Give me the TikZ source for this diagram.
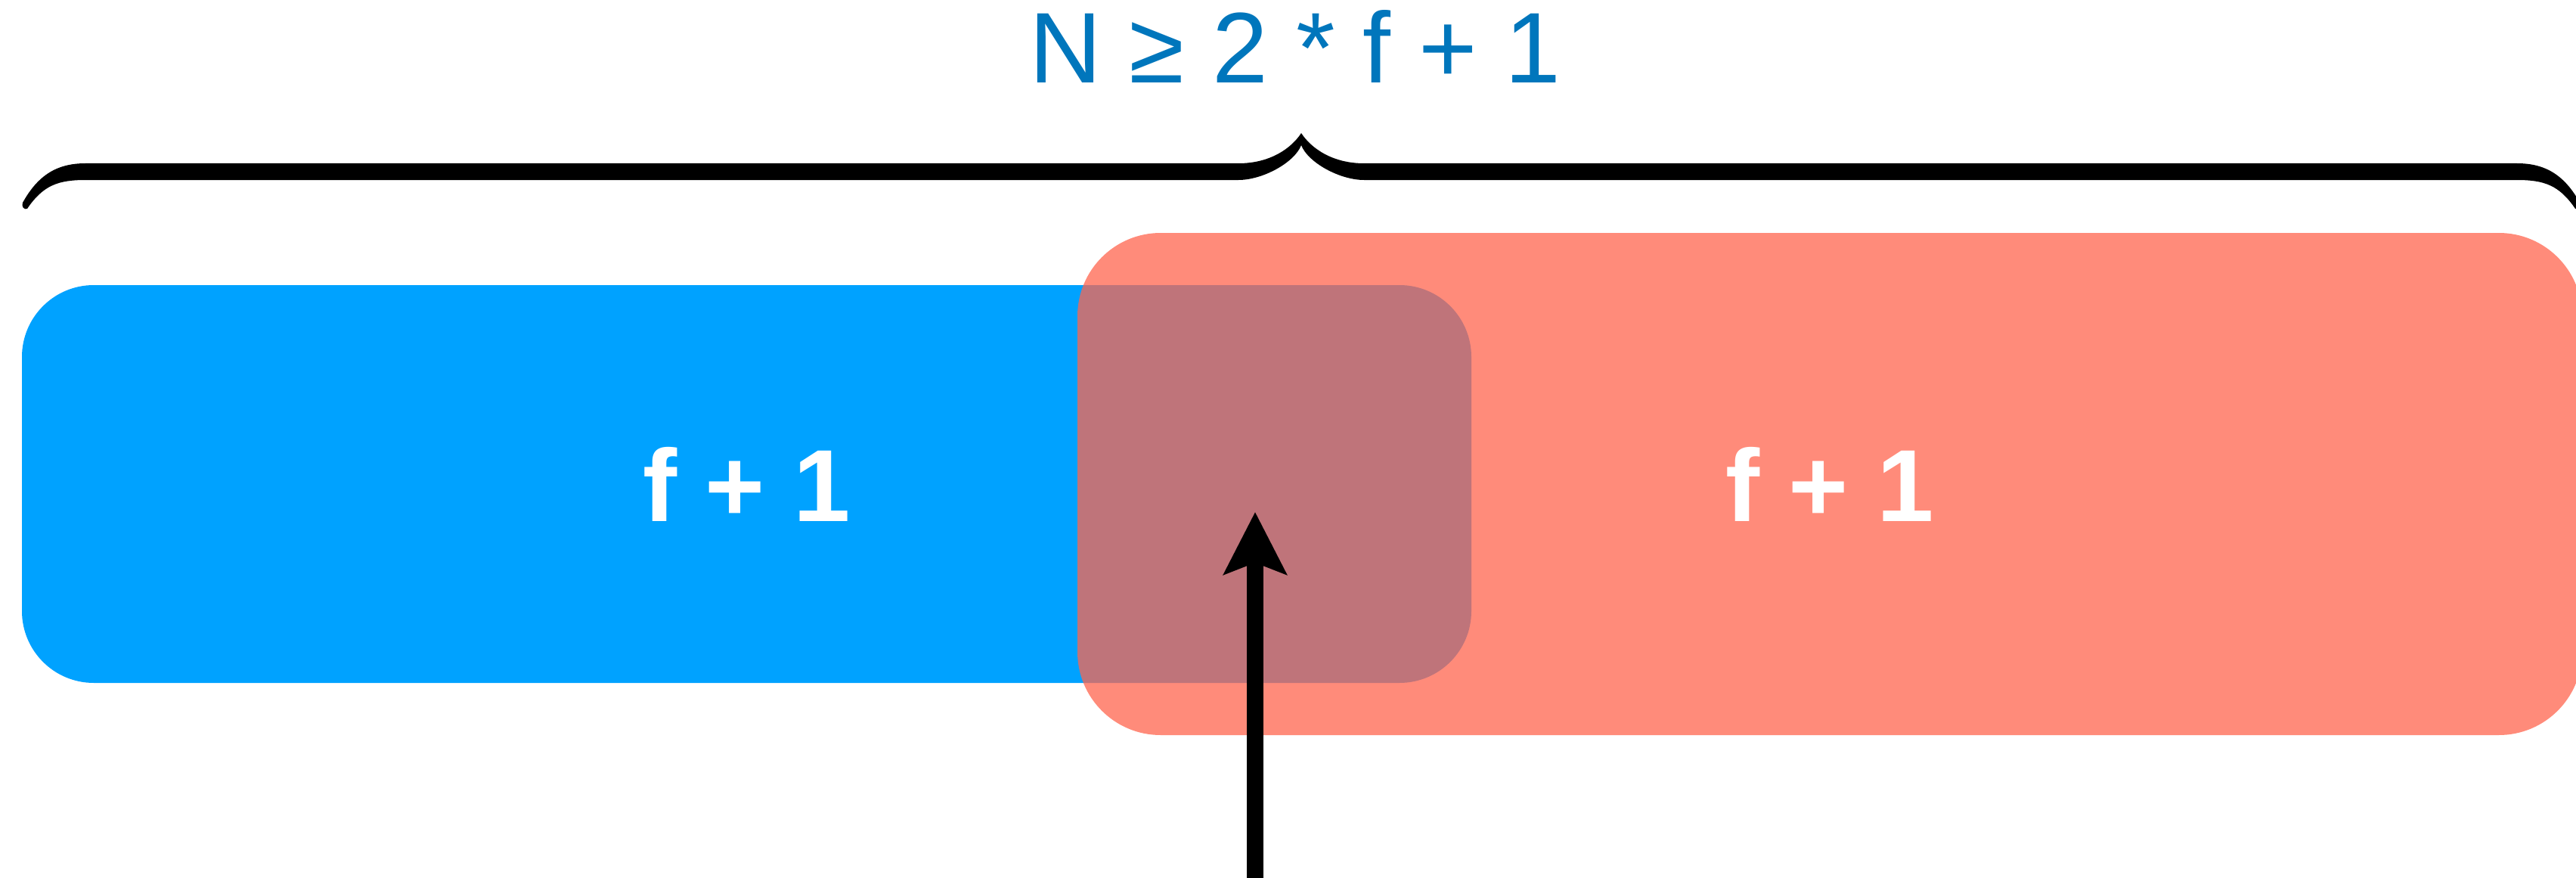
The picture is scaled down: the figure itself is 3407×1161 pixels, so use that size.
\documentclass[tikz,border=0pt]{standalone}
\usepackage{fontspec}
\setmainfont{Liberation Sans}
\usetikzlibrary{arrows.meta}
\definecolor{boxblue}{RGB}{0,162,255}
\definecolor{boxred}{RGB}{255,101,78}
\definecolor{titleblue}{RGB}{0,118,188}
\tikzset{
  quorum/.style={rounded corners=95pt, inner sep=0pt, outer sep=0pt, text=white,
    font=\fontsize{135.5}{160}\selectfont\bfseries},
  bracefill/.style={fill=black, draw=none},
  pointer/.style={line width=22pt, -{Stealth[length=82pt, width=82pt, inset=15pt]}}
}
\begin{document}
\begin{tikzpicture}[x=1pt, y=-1pt]
\clip (0,0) rectangle (3407,1161);
\fill[white] (0,0) rectangle (3407,1161);
% title
\node[anchor=base, text=titleblue, inner sep=0pt, font=\fontsize{132.7}{160}\selectfont] (title) at (1713,110) {N ≥ 2 * f + 1};
% brace
\path[bracefill] (30,268) .. controls (50,232) and (75,216) .. (113,216)
  -- (1638,216) .. controls (1680,216) and (1708,196) .. (1721,176)
  .. controls (1734,196) and (1762,216) .. (1804,216)
  -- (3329,216) .. controls (3367,216) and (3392,232) .. (3412,268)
  .. controls (3414,273) and (3410,278) .. (3406,276)
  .. controls (3385,245) and (3365,238) .. (3329,238)
  -- (1804,238) .. controls (1772,238) and (1730,215) .. (1721,192)
  .. controls (1712,215) and (1670,238) .. (1638,238)
  -- (113,238) .. controls (77,238) and (57,245) .. (36,276)
  .. controls (32,278) and (28,273) .. (30,268) -- cycle;
% boxes
\node[quorum, fill=boxblue, minimum width=1917pt, minimum height=526pt] (left) at (987.5,640) {f + 1};
\node[quorum, fill=boxred, fill opacity=0.75, text opacity=1, minimum width=1990pt, minimum height=664pt, rounded corners=110pt] (right) at (2420,640) {f + 1};
% arrow
\coordinate (arrowbase) at (1660,1170);
\coordinate (arrowtip) at (1660,677);
\draw[pointer] (arrowbase) -- (arrowtip);
\end{tikzpicture}
\end{document}
